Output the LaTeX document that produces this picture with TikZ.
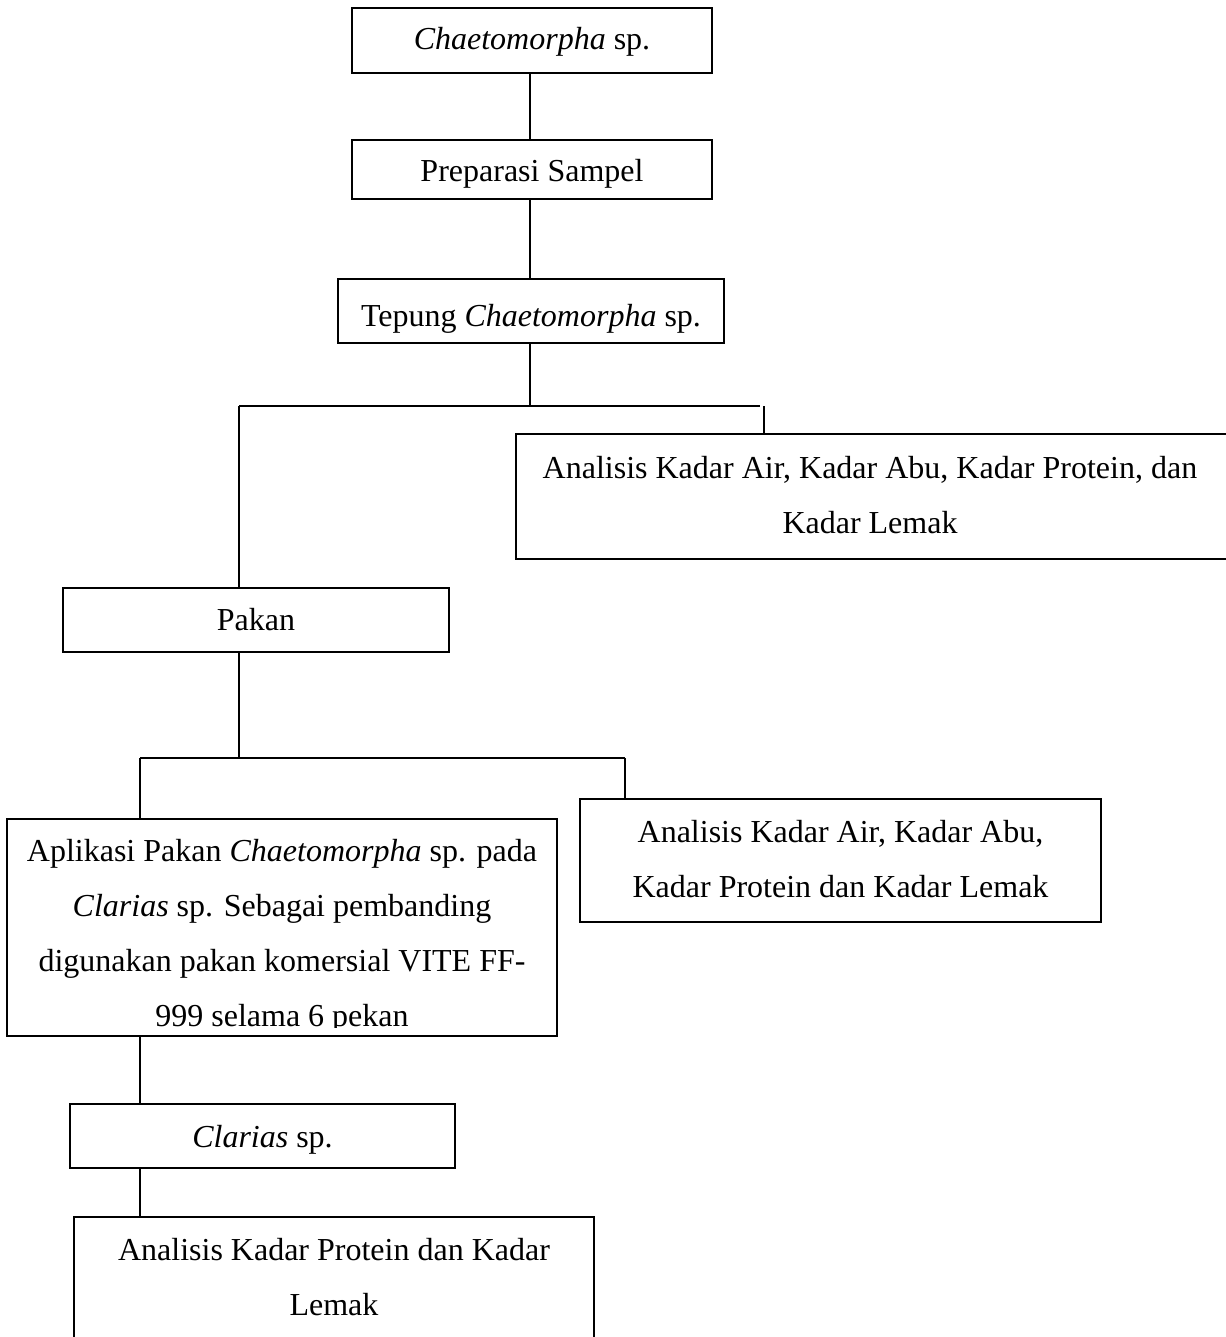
\documentclass[tikz,border=0pt]{standalone}
\usepackage{fontspec}
\setmainfont{Liberation Serif}
\usetikzlibrary{fit}
\begin{document}
\begin{tikzpicture}[x=0.375pt,y=-0.375pt,
  box/.style={draw, line width=0.8pt, rectangle, inner sep=0pt, outer sep=0pt},
  txt/.style={anchor=base, inner sep=0pt, font=\fontsize{12}{20.625}\selectfont},
  conn/.style={line width=0.8pt}]
\useasboundingbox (0,0) rectangle (1225,1337);

% boxes
\node[box, fit={(352,8) (712,73)}] (b1) {};
\node[box, fit={(352,140) (712,199)}] (b2) {};
\node[box, fit={(338,279) (724,343)}] (b3) {};
\node[box, fit={(516,434) (1229,559)}] (rt) {};
\node[box, fit={(63,588) (449,652)}] (pakan) {};
\node[box, fit={(7,819) (557,1036)}] (apl) {};
\node[box, fit={(580,799) (1101,922)}] (rm) {};
\node[box, fit={(70,1104) (455,1168)}] (clar) {};
\node[box, fit={(74,1217) (594,1350)}] (bot) {};

% texts
\node[txt] (t1) at (532,50) {\textit{Chaetomorpha} sp.};
\node[txt] (t2) at (532,182) {Preparasi Sampel};
\node[txt] (t3) at (531,327) {Tepung \textit{Chaetomorpha} sp.};
\node[txt] (t4) at (870,478) {\begin{tabular}[t]{@{}c@{}}Analisis Kadar Air, Kadar Abu, Kadar Protein, dan\\Kadar Lemak\end{tabular}};
\node[txt] (t5) at (256,630) {Pakan};
\begin{scope}
\clip (7,819) rectangle (557,1027);
\node[txt] (t6) at (282,861) {\begin{tabular}[t]{@{}c@{}}Aplikasi Pakan \textit{Chaetomorpha} sp. pada\\\textit{Clarias} sp. Sebagai pembanding\\digunakan pakan komersial VITE FF-\\999 selama 6 pekan\end{tabular}};
\end{scope}
\node[txt] (t7) at (840.5,842) {\begin{tabular}[t]{@{}c@{}}Analisis Kadar Air, Kadar Abu,\\Kadar Protein dan Kadar Lemak\end{tabular}};
\node[txt] (t8) at (262.5,1147) {\textit{Clarias} sp.};
\node[txt] (t9) at (334,1260) {\begin{tabular}[t]{@{}c@{}}Analisis Kadar Protein dan Kadar\\Lemak\end{tabular}};

% junction coordinates
\coordinate (c0) at (530,0);
\coordinate (j1) at (530,406);
\coordinate (jl) at (239,406);
\coordinate (jr) at (760,406);
\coordinate (tk) at (764,406);
\coordinate (j2) at (239,758);
\coordinate (j2l) at (140,758);
\coordinate (j2r) at (625,758);

% connectors
\draw[conn] (b1.south -| c0) -- (b2.north -| c0);
\draw[conn] (b2.south -| c0) -- (b3.north -| c0);
\draw[conn] (b3.south -| c0) -- (j1);
\draw[conn] (jl) -- (jr);
\draw[conn] (tk) -- (tk |- rt.north);
\draw[conn] (jl) -- (jl |- pakan.north);
\draw[conn] (pakan.south -| j2) -- (j2);
\draw[conn] (j2l) -- (j2r);
\draw[conn] (j2l) -- (j2l |- apl.north);
\draw[conn] (j2r) -- (j2r |- rm.north);
\draw[conn] (apl.south -| j2l) -- (clar.north -| j2l);
\draw[conn] (clar.south -| j2l) -- (bot.north -| j2l);
\end{tikzpicture}
\end{document}
